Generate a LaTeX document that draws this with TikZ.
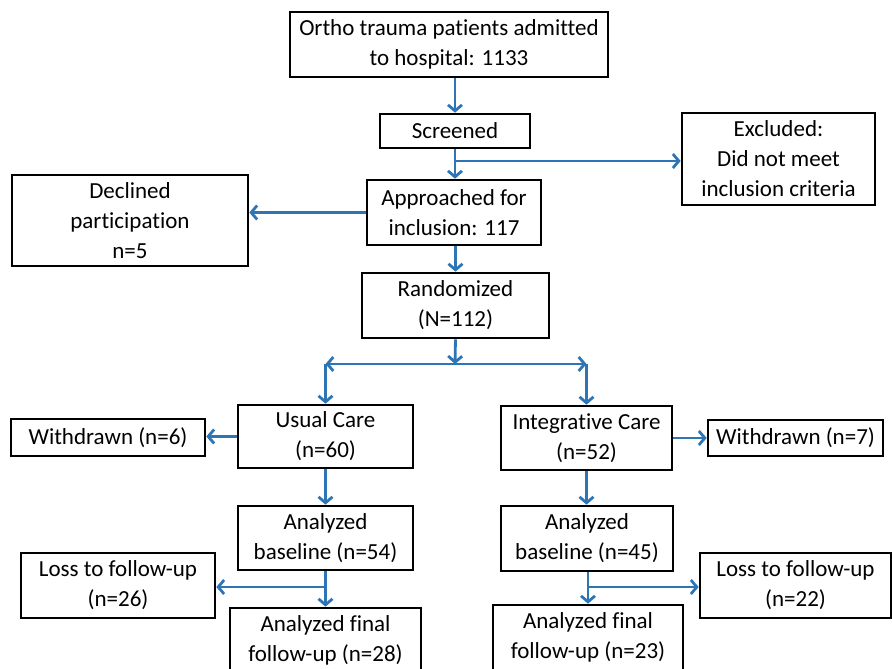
\documentclass[tikz,border=0pt]{standalone}
\usepackage{fontspec}
\setmainfont{Carlito}[Ligatures={NoCommon}]
\usetikzlibrary{arrows.meta}
\definecolor{flowblue}{RGB}{46,117,182}
\tikzset{
  box/.style={draw=black, line width=2.6pt, align=center, inner sep=0pt,
    font=\fontsize{23}{30}\selectfont},
  flow/.style={draw=flowblue, line width=2.8pt,
    -{Straight Barb[length=6pt,width=14pt]}},
}
\begin{document}
\begin{tikzpicture}[x=1pt, y=-1pt]
  \useasboundingbox (0,0) rectangle (892,669);
  \clip (0,0) rectangle (892,669);

  % enrolment
  \node[box, minimum width=318pt, minimum height=65pt] (admitted) at (449,44.5) {Ortho trauma patients admitted\\to hospital: 1133};
  \node[box, minimum width=150pt, minimum height=34pt] (screened) at (455,131) {Screened};
  \node[box, minimum width=193pt, minimum height=92pt] (excluded) at (778.5,159) {Excluded:\\Did not meet\\inclusion criteria};
  \node[box, minimum width=174pt, minimum height=65pt] (approached) at (454,212.5) {Approached for\\inclusion: 117};
  \node[box, minimum width=236pt, minimum height=91pt] (declined) at (130,220.5) {Declined\\participation\\n=5};
  \node[box, minimum width=187pt, minimum height=65pt] (randomized) at (455.5,305.5) {Randomized\\(N=112)};

  % usual care arm
  \node[box, minimum width=175pt, minimum height=63pt] (usual) at (325.5,436.5) {Usual Care\\(n=60)};
  \node[box, minimum width=194pt, minimum height=37pt] (withdrawnL) at (108,437.5) {Withdrawn (n=6)};
  \node[box, minimum width=175pt, minimum height=64pt] (baseL) at (325.5,538) {Analyzed\\baseline (n=54)};
  \node[box, minimum width=194pt, minimum height=65pt] (lossL) at (118,585.5) {Loss to follow-up\\(n=26)};
  \node[box, minimum width=191pt, minimum height=65pt] (finalL) at (325.5,640.5) {Analyzed final\\follow-up (n=28)};

  % integrative care arm
  \node[box, minimum width=171pt, minimum height=64pt] (integr) at (586.5,438) {Integrative Care\\(n=52)};
  \node[box, minimum width=175pt, minimum height=36pt] (withdrawnR) at (795.5,438) {Withdrawn (n=7)};
  \node[box, minimum width=172pt, minimum height=65pt] (baseR) at (587,538.5) {Analyzed\\baseline (n=45)};
  \node[box, minimum width=191pt, minimum height=65pt] (lossR) at (795.5,585.5) {Loss to follow-up\\(n=22)};
  \node[box, minimum width=190pt, minimum height=65pt] (finalR) at (588,637.5) {Analyzed final\\follow-up (n=23)};

  % connectors
  \coordinate (exclsplit) at (455,161);
  \coordinate (armsplit) at (455,364);
  \coordinate (lossLsplit) at (325.5,587);
  \coordinate (lossRsplit) at (588,587);

  \draw[flow] (screened.north |- admitted.south) -- (screened.north);
  \draw[flow] (screened.south) -- (screened.south |- approached.north);
  \draw[flow] (exclsplit) -- (excluded.west |- exclsplit);
  \draw[flow] (approached.west) -- (declined.east |- approached.west);
  \draw[flow] (approached.south -| randomized) -- (randomized.north);
  \draw[flow] (randomized.south) -- (armsplit);
  \draw[flow] (armsplit) -- (armsplit -| usual);
  \draw[flow] (armsplit -| usual) -- (usual.north);
  \draw[flow] (armsplit) -- (armsplit -| integr);
  \draw[flow] (armsplit -| integr) -- (integr.north);

  \draw[flow] (usual.west) -- (withdrawnL.east |- usual.west);
  \draw[flow] (usual.south) -- (baseL.north);
  \draw[flow] (baseL.south) -- (finalL.north);
  \draw[flow] (lossLsplit) -- (lossL.east |- lossLsplit);

  \draw[flow] (integr.east) -- (withdrawnR.west |- integr.east);
  \draw[flow] (integr.south) -- (integr.south |- baseR.north);
  \draw[flow] (baseR.south -| finalR) -- (finalR.north);
  \draw[flow] (lossRsplit) -- (lossR.west |- lossRsplit);
\end{tikzpicture}
\end{document}
